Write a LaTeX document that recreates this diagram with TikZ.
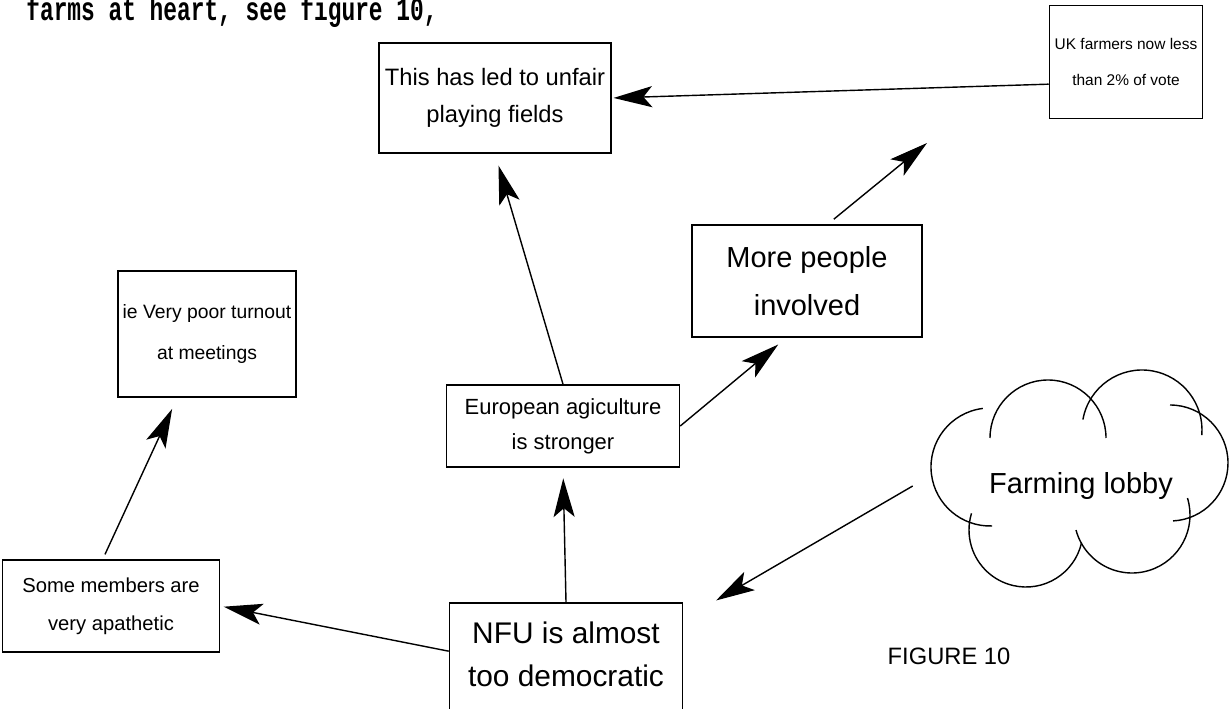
\documentclass[tikz,border=0pt]{standalone}
\usepackage{fontspec}
\setmainfont{Liberation Sans}
\setmonofont{Liberation Mono}
\usepackage{tikz}
\usetikzlibrary{arrows.meta}

\tikzset{
  box/.style={draw, line width=0.9pt, align=center, inner sep=0pt},
  link/.style={line width=0.8pt, -{Stealth[length=22pt,width=12pt,inset=5pt]}},
  puff/.style={line width=0.8pt},
}

\begin{document}
\begin{tikzpicture}[x=0.02cm,y=-0.02cm]

% page area
\clip (0,0) rectangle (1231,709);
\fill[white] (0,0) rectangle (1231,709);

% Line of running text above the map (stretched typewriter face)
\node[anchor=base west, inner sep=0pt, font=\fontsize{13}{15}\selectfont\ttfamily\bfseries] (head) at (26,21) {\scalebox{1}[1.45]{farms at heart, see figure 10,}};

% Draw the boxes
\node[box, minimum width=4.64cm, minimum height=2.2cm, font=\fontsize{13.5}{21}\selectfont] (led) at (495,98) {This has led to unfair\\playing fields};
\node[box, minimum width=3.06cm, minimum height=2.26cm, font=\fontsize{8.8}{21}\selectfont] (uk) at (1126,62) {UK farmers now less\\than 2\% of vote};
\node[box, minimum width=4.6cm, minimum height=2.24cm, font=\fontsize{16.5}{27}\selectfont] (more) at (807,281) {More people\\involved};
\node[box, minimum width=3.56cm, minimum height=2.52cm, font=\fontsize{11}{23}\selectfont] (poor) at (207,334) {ie Very poor turnout\\at meetings};
\node[box, minimum width=4.66cm, minimum height=1.64cm, font=\fontsize{12.5}{20}\selectfont] (euro) at (563,426) {European agiculture\\is stronger};
\node[box, minimum width=4.34cm, minimum height=1.84cm, font=\fontsize{11.5}{21.5}\selectfont] (apath) at (111,606) {Some members are\\very apathetic};
\node[box, anchor=north, minimum width=4.66cm, inner ysep=10.6pt, text depth=30pt, font=\fontsize{17}{24.5}\selectfont] (nfu) at (566,602) {NFU is almost\\too democratic};

% Cloud with its label
\node[minimum width=6.72cm, inner sep=0pt, font=\fontsize{16.5}{20}\selectfont] (lobby) at (1081,486) {Farming lobby};
\draw[puff] ([shift={(263:59)}]990,467) arc[start angle=263, end angle=88, radius=59];
\draw[puff] ([shift={(180:58)}]1048,438) arc[start angle=180, end angle=360, radius=58];
\draw[puff] ([shift={(190:60)}]1142,430) arc[start angle=190, end angle=365, radius=60];
\draw[puff] ([shift={(270:58)}]1170,463) arc[start angle=270, end angle=447, radius=58];
\draw[puff] ([shift={(-17:58)}]1132,515) arc[start angle=-17, end angle=165, radius=58];
\draw[puff] ([shift={(13:57)}]1026,530) arc[start angle=13, end angle=197, radius=57];

\node[font=\fontsize{13.5}{16}\selectfont] (fig) at (949,656) {FIGURE 10};

% Arrows between the boxes
\coordinate (uktip) at (927,143);
\draw[link, shorten >=6pt] (nfu.north) -- (euro.south);
\draw[link, shorten >=7pt] (euro.north) -- (led.south);
\draw[link, shorten >=6pt] (euro.east) -- (more.-110);
\draw[link, shorten <=4.5pt] (more.70) -- (uktip);
\draw[link, shorten >=1pt] (uk.196) -- (led.east);
\draw[link, shorten >=2pt] ([yshift=-28pt]nfu.north west) -- (apath.east);
\draw[link, shorten <=3pt, shorten >=7pt] (apath.100) -- (poor.-115);
\draw[link, shorten >=21.6pt] (lobby.west) -- ([yshift=-10pt]nfu.north east);

\end{tikzpicture}
\end{document}
